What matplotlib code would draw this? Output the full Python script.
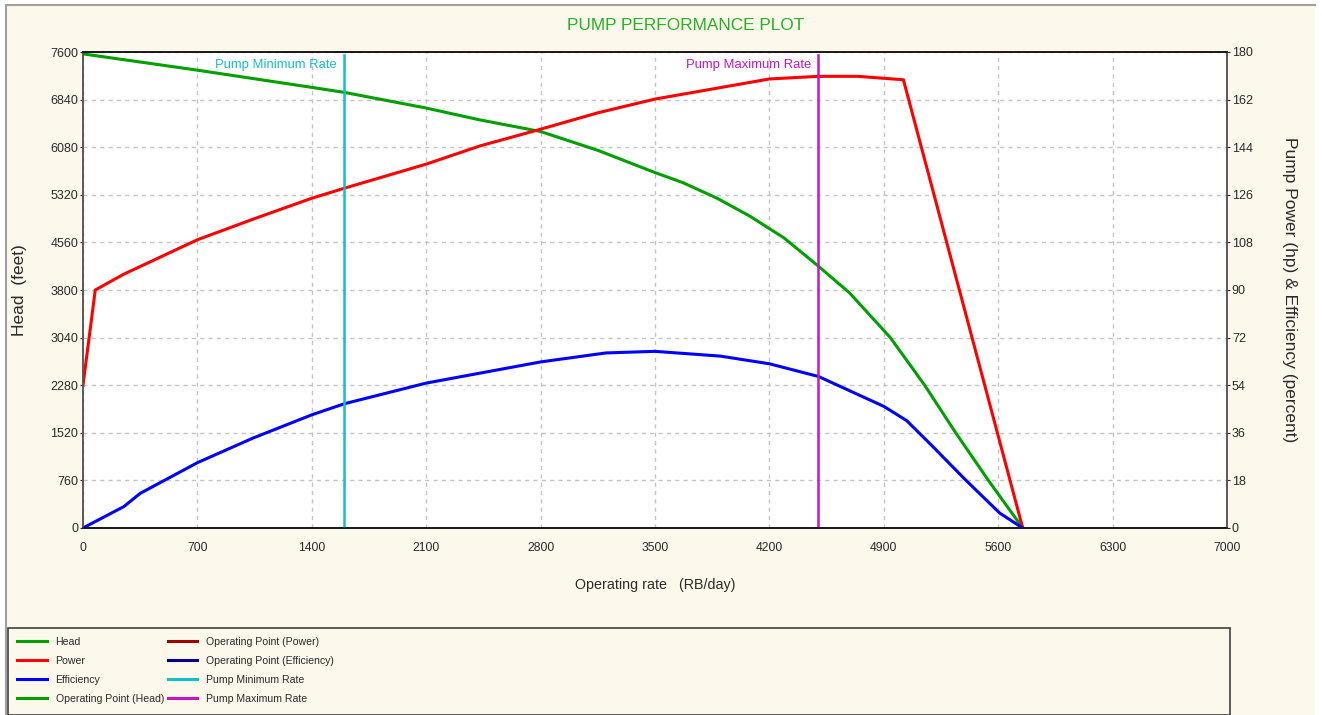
import matplotlib

matplotlib.use("Agg")
import matplotlib.pyplot as plt
from matplotlib.lines import Line2D
from matplotlib.patches import Rectangle

plt.rcParams["font.family"] = ["Liberation Sans", "DejaVu Sans"]

# ---- data ----
rate_head = [0, 700, 1400, 1600, 2100, 2430, 2800, 3150, 3500, 3670, 3880, 4080,
             4290, 4500, 4690, 4940, 5150, 5340, 5540, 5750]
head_ft = [7570, 7310, 7035, 6955, 6705, 6515, 6330, 6030, 5675, 5515, 5265, 4980,
           4630, 4180, 3755, 3040, 2280, 1520, 760, 0]

rate_power = [0, 75, 250, 700, 1050, 1400, 1600, 2100, 2430, 2800, 3150, 3500, 3850,
              4200, 4500, 4740, 5020, 5750]
power_hp = [54, 90, 96, 109, 117, 124.7, 128.5, 137.6, 144.5, 150.8, 157, 162.2, 166,
            169.8, 170.8, 170.8, 169.5, 0]

rate_eff = [0, 250, 350, 700, 1040, 1400, 1600, 2100, 2800, 3200, 3500, 3900, 4200,
            4500, 4900, 5040, 5200, 5400, 5610, 5750]
eff_pct = [0, 8.1, 13.1, 24.7, 34, 42.8, 47, 54.8, 62.8, 66.2, 66.8, 65, 62.1,
           57.3, 46, 40.6, 30.8, 18.2, 5.6, 0]

# operating point series are empty in this plot (legend only)
op_rate = []
op_head = []
op_power = []
op_eff = []

min_rate = 1600
max_rate = 4500

x_ticks = list(range(0, 7001, 700))
head_ticks = list(range(0, 7601, 760))
right_ticks = list(range(0, 181, 18))

W, H = 1322, 715
C_HEAD = "#00a000"
C_POWER = "#ff0000"
C_EFF = "#0000ff"
C_OP_POWER = "#a00000"
C_OP_EFF = "#000090"
C_MIN = "#12bfca"
C_MAX = "#c416c4"
CREAM = "#fdf8ec"
TXT = "#2a2a2a"


def fx(px):
    return px / W


def fy(py):
    return 1 - py / H


fig = plt.figure(figsize=(W / 100, H / 100), dpi=100, facecolor="white")

# window background and border
fig.patches.append(Rectangle((fx(6), 0), fx(1315 - 6), fy(5), transform=fig.transFigure,
                             facecolor=CREAM, edgecolor="none", zorder=-10))
fig.add_artist(Line2D([fx(6), fx(1315)], [fy(5), fy(5)], color="#a0a0a0", lw=1.5))
fig.add_artist(Line2D([fx(6), fx(6)], [0, fy(5)], color="#a0a0a0", lw=1.5))

ax = fig.add_axes([fx(83), fy(528), fx(1227 - 83), (528 - 52) / H])
ax.set_facecolor("white")
ax2 = ax.twinx()

ax.plot(rate_head, head_ft, color=C_HEAD, lw=2.2, label="Head")
ax2.plot(rate_power, power_hp, color=C_POWER, lw=2.2, label="Power")
ax2.plot(rate_eff, eff_pct, color=C_EFF, lw=2.2, label="Efficiency")
ax.plot(op_rate, op_head, color=C_HEAD, lw=2.2, label="Operating Point (Head)")
ax2.plot(op_rate, op_power, color=C_OP_POWER, lw=2.2, label="Operating Point (Power)")
ax2.plot(op_rate, op_eff, color=C_OP_EFF, lw=2.2, label="Operating Point (Efficiency)")
ax2.axvline(min_rate, ymax=0.994, color=C_MIN, lw=1.8, label="Pump Minimum Rate")
ax2.axvline(max_rate, ymax=0.994, color=C_MAX, lw=1.8, label="Pump Maximum Rate")

ax2.text(min_rate - 45, 175, "Pump Minimum Rate", color=C_MIN, fontsize=9.4,
         ha="right", va="center")
ax2.text(max_rate - 45, 175, "Pump Maximum Rate", color=C_MAX, fontsize=9.4,
         ha="right", va="center")

ax.set_xlim(0, 7000)
ax.set_ylim(0, 7600)
ax2.set_ylim(0, 180)
ax.set_xticks(x_ticks)
ax.set_yticks(head_ticks)
ax2.set_yticks(right_ticks)
ax.grid(True, color="#c4c4c4", linestyle=(0, (3, 3)), lw=1.0)
ax.set_axisbelow(True)

ax.tick_params(axis="y", length=2.5, pad=1, labelsize=9, colors=TXT)
ax.tick_params(axis="x", length=0, pad=10, labelsize=8.7, colors=TXT)
ax2.tick_params(axis="y", length=2.5, pad=1, labelsize=9, colors=TXT)

for a in (ax, ax2):
    for side, sp in a.spines.items():
        sp.set_linewidth(1.1)
        sp.set_color("#111111" if side in ("bottom", "top") else "#555555")

fig.text(fx(686), fy(25), "PUMP PERFORMANCE PLOT", color="#22b422", fontsize=12.4,
         ha="center", va="center")
fig.text(fx(655), fy(585), "Operating rate   (RB/day)", color=TXT, fontsize=10.3,
         ha="center", va="center")
fig.text(fx(20), fy(290), "Head  (feet)", color=TXT, fontsize=12.5, rotation=90,
         ha="center", va="center")
fig.text(fx(1290), fy(290), "Pump Power (hp) & Efficiency (percent)", color=TXT,
         fontsize=12.5, rotation=270, ha="center", va="center")

# legend panel
fig.patches.append(Rectangle((fx(8), 0), fx(1230 - 8), fy(628), transform=fig.transFigure,
                             facecolor=CREAM, edgecolor="#404040", lw=1.2, zorder=-5))
h1, l1 = ax.get_legend_handles_labels()
h2, l2 = ax2.get_legend_handles_labels()
handles = dict(zip(l1 + l2, h1 + h2))
order = ["Head", "Power", "Efficiency", "Operating Point (Head)",
         "Operating Point (Power)", "Operating Point (Efficiency)",
         "Pump Minimum Rate", "Pump Maximum Rate"]
leg_handles = [Line2D([], [], color=handles[k].get_color(), lw=2.2) for k in order]
fig.legend(leg_handles, order, loc="upper left", bbox_to_anchor=(fx(17), fy(637)),
           ncol=2, frameon=False, fontsize=7.6, handlelength=2.8, handletextpad=0.85,
           columnspacing=0.35, labelspacing=0.85, borderpad=0, borderaxespad=0,
           labelcolor=TXT)

fig.savefig("out.png", dpi=100, facecolor="white")
